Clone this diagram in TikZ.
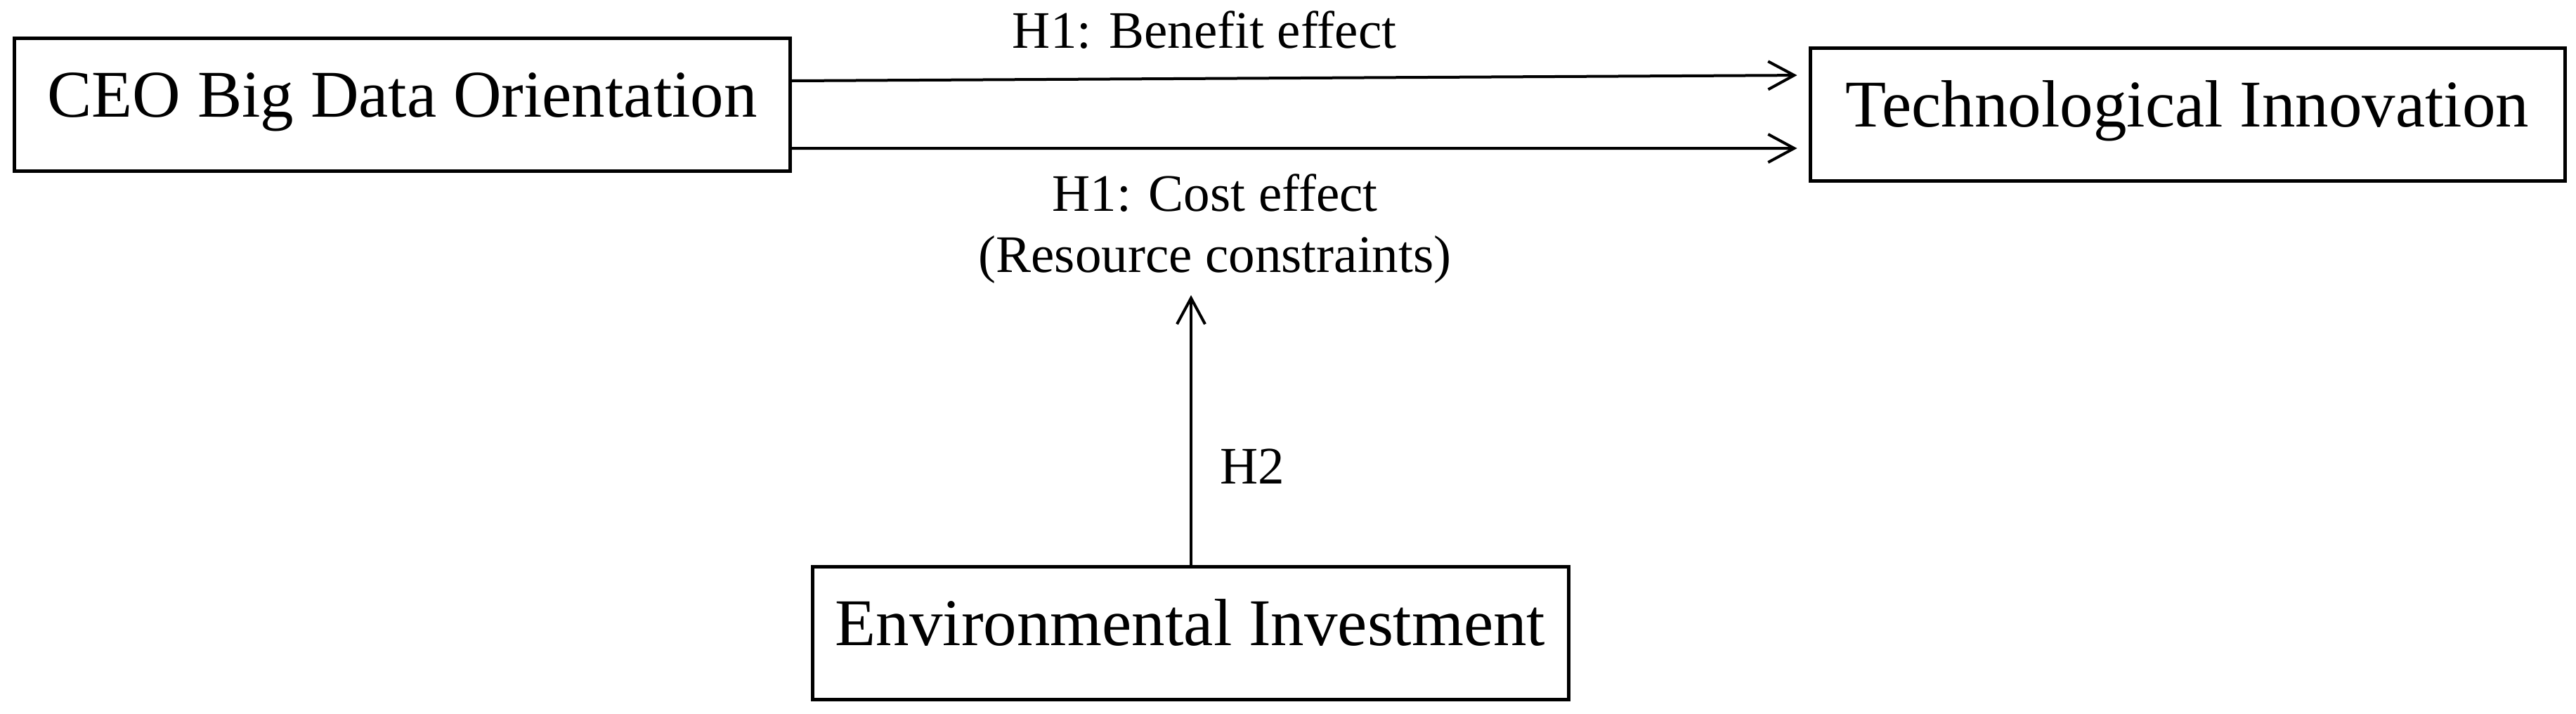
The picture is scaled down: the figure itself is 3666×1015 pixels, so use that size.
\documentclass[tikz,border=0pt]{standalone}
\usepackage{fontspec}
\setmainfont{Liberation Serif}
\usetikzlibrary{arrows.meta}
\begin{document}
\begin{tikzpicture}[x=0.2pt,y=-0.2pt,
  box/.style={draw,line width=1pt,inner sep=0pt,font=\fontsize{19}{23}\selectfont,
    text height=0.71em,text depth=0pt,minimum height=37.8pt},
  lbl/.style={inner sep=0pt,anchor=base,font=\fontsize{15}{18}\selectfont},
  conn/.style={line width=0.8pt,-{Straight Barb[length=7.4pt,width=8pt,line width=0.8pt]}}]
\useasboundingbox (0,0) rectangle (3666,1015);
\node[box,minimum width=220.6pt] (ceo) at (572.5,148.5) {CEO Big Data Orientation};
\node[box,minimum width=214.8pt] (tech) at (3113,162.5) {Technological Innovation};
\node[box,minimum width=215.2pt] (env) at (1694,900.5) {Environmental Investment};
\draw[conn,shorten >=3.2pt] ([yshift=6.7pt]ceo.east) -- ([yshift=11.1pt]tech.west);
\draw[conn,shorten >=3.2pt] ([yshift=-12.5pt]ceo.east) -- ([yshift=-9.7pt]tech.west);
\coordinate (tip) at (1695,420);
\draw[conn,line width=0.7pt] (env.north -| tip) -- (tip);
\node[lbl] (benefit) at (1714,68) {H1: Benefit effect};
\node[lbl] (cost) at (1729,300) {H1: Cost effect};
\node[lbl] (resource) at (1729,387) {(Resource constraints)};
\node[lbl,anchor=base west] (h2) at (1735,688) {H2};
\end{tikzpicture}
\end{document}
